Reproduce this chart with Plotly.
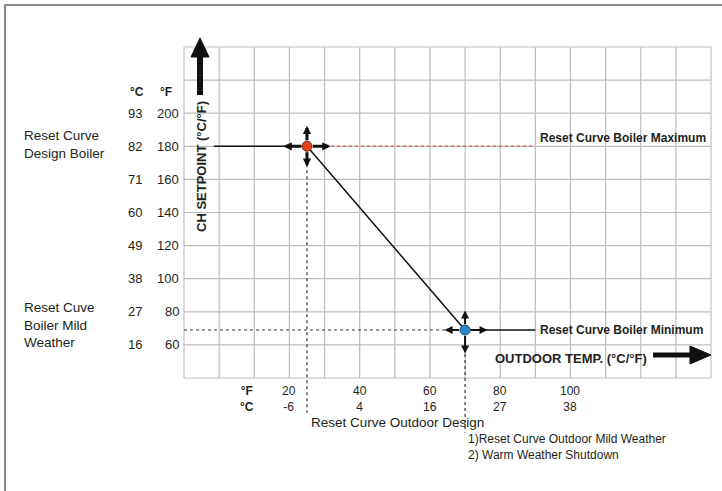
"""
plot.py - outdoor reset curve for the boiler CH setpoint
"""

import plotly.graph_objects as go

# figure and grid (grid runs -10..140 F across, 40..240 F up)
W, H = 722, 491
GRID_X = [-10, 140]
GRID_Y = [40, 240]
GRID_PX_X = [184, 711]
GRID_PX_Y = [378, 47]

# axis labels
y_ticks_f = [200, 180, 160, 140, 120, 100, 80, 60]
y_ticks_c = [93, 82, 71, 60, 49, 38, 27, 16]
x_ticks_f = [20, 40, 60, 80, 100]
x_ticks_c = [-6, 4, 16, 27, 38]

# reset curve points (F)
curve_start_x = -1.5
design_outdoor = 25
design_boiler = 180
mild_outdoor = 70
mild_boiler = 69
max_line_end = 89
min_line_end = 90
design_drop = 19
mild_drop = 7

sx = (GRID_PX_X[1] - GRID_PX_X[0]) / (GRID_X[1] - GRID_X[0])
sy = (GRID_PX_Y[0] - GRID_PX_Y[1]) / (GRID_Y[1] - GRID_Y[0])
x_range = [GRID_X[0] - GRID_PX_X[0] / sx, GRID_X[1] + (W - GRID_PX_X[1]) / sx]
y_range = [GRID_Y[0] - (H - GRID_PX_Y[0]) / sy, GRID_Y[1] + GRID_PX_Y[1] / sy]


def px_x(p):
    return x_range[0] + p / sx


def px_y(p):
    return y_range[1] - p / sy


FONT = 'Liberation Sans, Arial, sans-serif'
TXT = '#231f20'

fig = go.Figure()

# curve
fig.add_trace(go.Scatter(
    x=[curve_start_x, design_outdoor, mild_outdoor],
    y=[design_boiler, design_boiler, mild_boiler],
    mode='lines', line=dict(color='#111111', width=1.5)
))
fig.add_trace(go.Scatter(
    x=[design_outdoor, max_line_end], y=[design_boiler, design_boiler],
    mode='lines', line=dict(color='#f0643c', width=1.5, dash='dot')
))
fig.add_trace(go.Scatter(
    x=[GRID_X[0], mild_outdoor], y=[mild_boiler, mild_boiler],
    mode='lines', line=dict(color='#333333', width=1.2, dash='dot')
))
fig.add_trace(go.Scatter(
    x=[mild_outdoor, min_line_end], y=[mild_boiler, mild_boiler],
    mode='lines', line=dict(color='#111111', width=1.5)
))
fig.add_trace(go.Scatter(
    x=[design_outdoor, design_outdoor], y=[design_boiler, design_drop],
    mode='lines', line=dict(color='#333333', width=1.2, dash='dot')
))
fig.add_trace(go.Scatter(
    x=[mild_outdoor, mild_outdoor], y=[mild_boiler, mild_drop],
    mode='lines', line=dict(color='#333333', width=1.2, dash='dot')
))
fig.add_trace(go.Scatter(
    x=[design_outdoor], y=[design_boiler], mode='markers',
    marker=dict(size=10, color='#e8411e', line=dict(color='#7a2a10', width=1))
))
fig.add_trace(go.Scatter(
    x=[mild_outdoor], y=[mild_boiler], mode='markers',
    marker=dict(size=10, color='#2b84c6', line=dict(color='#1d4f7a', width=1))
))

shapes = []
# grid
for gx in range(GRID_X[0], GRID_X[1] + 1, 10):
    edge = gx == GRID_X[1]
    shapes.append(dict(type='line', xref='x', yref='y', x0=gx, x1=gx,
                       y0=GRID_Y[0], y1=GRID_Y[1], layer='below',
                       line=dict(color='#dadada' if edge else '#bdbdbd',
                                 width=2 if edge else 1.2)))
for gy in range(GRID_Y[0], GRID_Y[1] + 1, 20):
    shapes.append(dict(type='line', xref='x', yref='y', x0=GRID_X[0], x1=GRID_X[1],
                       y0=gy, y1=gy, layer='below',
                       line=dict(color='#bdbdbd', width=1.2)))

# outer frame (left and top only)
shapes.append(dict(type='path', xref='paper', yref='paper',
                   path='M %f 0 L %f %f L 1 %f' % (5 / W, 5 / W, 1 - 5 / H, 1 - 5 / H),
                   line=dict(color='#8a8a8a', width=2)))

# big axis arrows
shapes.append(dict(type='line', xref='x', yref='y',
                   x0=px_x(200), x1=px_x(200), y0=px_y(95), y1=px_y(55),
                   line=dict(color='#111111', width=6)))
shapes.append(dict(type='path', xref='x', yref='y', fillcolor='#111111',
                   line=dict(color='#111111', width=1),
                   path='M %f %f L %f %f L %f %f Z' % (
                       px_x(200), px_y(38), px_x(191), px_y(57), px_x(209), px_y(57))))
shapes.append(dict(type='line', xref='x', yref='y',
                   x0=px_x(653), x1=px_x(692), y0=px_y(355), y1=px_y(355),
                   line=dict(color='#111111', width=5)))
shapes.append(dict(type='path', xref='x', yref='y', fillcolor='#111111',
                   line=dict(color='#111111', width=1),
                   path='M %f %f L %f %f L %f %f Z' % (
                       px_x(711), px_y(355), px_x(690), px_y(346), px_x(690), px_y(364))))

ann = []


def label(x, y, text, size=13, bold=False, xanchor='center', xshift=0, **kw):
    if bold:
        text = '<b>%s</b>' % text
    ann.append(dict(x=x, y=y, xref='x', yref='y', text=text, showarrow=False,
                    xanchor=xanchor, yanchor='middle', xshift=xshift,
                    font=dict(family=FONT, size=size, color=TXT), **kw))


# y tick labels
for f, c in zip(y_ticks_f, y_ticks_c):
    label(GRID_X[0], f, str(f), xanchor='right', xshift=-3)
    label(GRID_X[0], f, str(c), xanchor='right', xshift=-40)
label(px_x(137), px_y(92), '°C', size=12, bold=True)
label(px_x(166), px_y(92), '°F', size=12, bold=True)

# x tick labels (F over C)
for f, c in zip(x_ticks_f, x_ticks_c):
    label(f, px_y(399), '%d<br>%d' % (f, c), size=12)
label(px_x(247), px_y(399), '<b>°F</b><br><b>°C</b>', size=12)

# left side notes
label(px_x(22), px_y(144), 'Reset Curve<br>Design Boiler', size=13.5,
      xanchor='left', align='left')
label(px_x(22), px_y(325), 'Reset Cuve<br>Boiler Mild<br>Weather', size=13.5,
      xanchor='left', align='left')

# axis titles
label(px_x(201), px_y(167), 'CH SETPOINT (°C/°F)', size=13, bold=True, textangle=-90)
label(px_x(571), px_y(358), 'OUTDOOR TEMP. (°C/°F)', size=13, bold=True)

# curve notes
label(px_x(538), px_y(138), 'Reset Curve Boiler Maximum', size=12, bold=True, xanchor='left')
label(px_x(538), px_y(330), 'Reset Curve Boiler Minimum', size=12, bold=True, xanchor='left')
label(px_x(309), px_y(422), 'Reset Curve Outdoor Design', size=13.5, xanchor='left')
label(px_x(466), px_y(447), '1)Reset Curve Outdoor Mild Weather<br>2) Warm Weather Shutdown',
      size=12, xanchor='left', align='left')

# small arrows around the two points
for (px, py, w, s, offs) in [
    (design_outdoor, design_boiler, 3, 0.55, [(-25, 0), (25, 0), (0, -22), (0, 22)]),
    (mild_outdoor, mild_boiler, 2, 0.8, [(-22, 0), (24, 0), (0, -21), (0, 25)]),
]:
    for ax, ay in offs:
        ann.append(dict(x=px, y=py, xref='x', yref='y', ax=ax, ay=ay, text='',
                        showarrow=True, arrowside='start', startarrowhead=2,
                        startarrowsize=s, arrowwidth=w, arrowcolor='#111111',
                        standoff=6, startstandoff=0))

fig.update_layout(
    width=W, height=H,
    margin=dict(l=0, r=0, t=0, b=0),
    paper_bgcolor='white', plot_bgcolor='white',
    showlegend=False,
    xaxis=dict(range=x_range, visible=False, fixedrange=True),
    yaxis=dict(range=y_range, visible=False, fixedrange=True),
    shapes=shapes,
    annotations=ann,
)

# the page body has a default margin; drop it so the figure sits at 0,0
fig.write_html("out.html", config={'displayModeBar': False},
               post_script="document.body.style.margin='0';")
